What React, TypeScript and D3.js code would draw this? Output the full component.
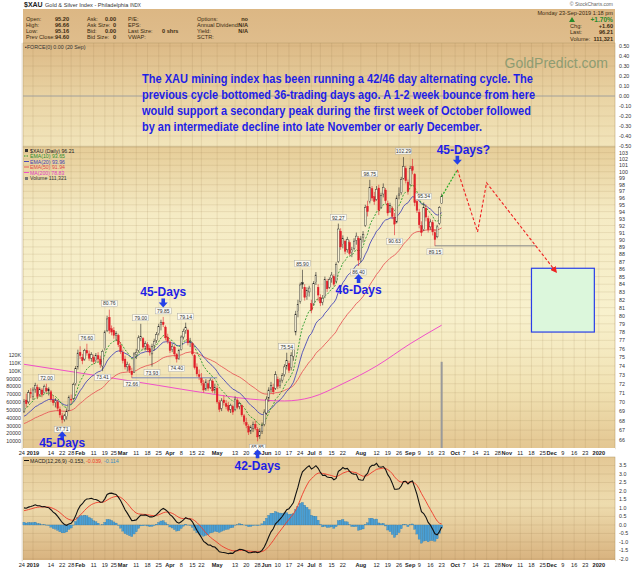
import React from "react";
import * as d3 from "d3";

// ---------- calendar ----------
const HOLIDAYS = ["2018-12-25","2019-01-01","2019-01-21","2019-02-18","2019-04-19","2019-05-27","2019-07-04","2019-09-02","2019-11-28","2019-12-25","2020-01-01"];
function buildCalendar(): string[] {
  const out: string[] = [];
  const d = new Date(Date.UTC(2018, 11, 24));
  const end = new Date(Date.UTC(2020, 0, 20));
  while (d <= end) {
    const wd = d.getUTCDay();
    const s = d.toISOString().slice(0, 10);
    if (wd !== 0 && wd !== 6 && HOLIDAYS.indexOf(s) < 0) out.push(s);
    d.setUTCDate(d.getUTCDate() + 1);
  }
  return out;
}
const CAL = buildCalendar();
const BASE = CAL.indexOf("2019-01-02");
const idxOf = (s: string) => CAL.indexOf(s) - BASE;

// ---------- price data [open, high, low, close] ----------
const dataStart = "2018-12-26";
const dec18 = [[69.0,70.3,68.8,70.0],[70.2,70.9,69.4,69.8],[70.0,71.3,69.8,71.0],[71.0,71.5,70.4,70.9]];
const jan19 = [[70.6,71.6,70.2,71.3],[71.4,72.1,71.0,71.8],[71.6,71.9,70.3,70.6],[70.8,71.6,70.6,71.4],[71.3,71.5,70.5,70.8],[71.0,71.9,70.9,71.7],[71.5,72.0,71.0,71.2],[71.2,71.6,70.7,71.4],[71.1,71.3,70.0,70.3],[70.2,70.7,69.6,69.9],[69.9,70.4,69.4,70.1],[70.0,70.2,69.0,69.3],[69.2,69.5,68.3,68.6],[68.5,68.8,67.71,68.1],[68.1,68.7,67.9,68.5],[68.4,69.3,68.1,69.0],[69.1,70.7,69.0,70.5],[70.3,70.8,69.8,70.2],[70.4,72.1,70.2,71.9],[72.0,74.0,71.8,73.7],[73.9,75.9,73.6,75.5]];
const feb19 = [[75.6,76.3,74.8,75.2],[75.0,75.4,74.2,74.6],[74.8,76.0,74.6,75.8],[75.8,76.6,75.2,75.5],[75.4,75.8,74.6,74.9],[74.9,75.6,74.5,75.3],[75.0,75.3,74.2,74.5],[74.6,75.5,74.4,75.2],[75.2,75.6,74.5,74.8],[74.8,75.2,73.8,74.2],[74.0,75.9,73.41,75.7],[76.0,78.2,75.8,78.0],[78.2,80.0,78.0,79.6],[79.8,80.76,77.8,78.2],[78.4,78.8,77.6,78.0],[78.2,78.6,77.2,77.6],[77.6,78.1,76.9,77.8],[77.6,77.8,76.2,76.5],[76.4,76.8,75.4,75.7]];
const mar19 = [[75.6,75.9,74.3,74.6],[74.8,75.2,73.6,73.9],[73.9,74.5,73.4,74.2],[74.0,74.3,73.2,73.5],[73.4,73.8,72.66,73.0],[73.3,75.6,73.2,75.4],[75.3,76.0,74.8,75.6],[75.8,77.6,75.6,77.3],[77.2,79.0,76.9,77.5],[77.2,77.4,75.9,76.2],[76.3,76.9,75.8,76.6],[76.5,76.8,75.6,75.9],[76.0,76.4,75.2,75.6],[75.4,76.6,73.93,76.3],[76.4,77.2,75.8,76.9],[77.0,78.0,76.7,77.7],[77.8,79.0,77.6,78.7],[78.9,79.5,78.2,79.2],[79.2,79.85,78.6,78.9],[78.6,78.8,77.0,77.3],[77.4,77.8,76.6,76.9]];
const apr19 = [[76.8,77.0,75.5,75.8],[75.9,76.6,75.6,76.3],[76.2,76.4,75.1,75.4],[75.3,75.5,74.4,74.8],[74.9,76.0,74.7,75.8],[75.9,77.6,75.8,77.4],[77.4,78.4,77.1,78.1],[78.2,79.14,77.8,78.6],[78.2,78.4,76.4,76.7],[76.8,77.3,76.2,76.9],[76.6,76.8,75.2,75.4],[75.2,75.4,73.6,73.8],[73.9,74.3,72.8,73.1],[73.0,73.6,72.4,72.8],[72.6,73.2,71.8,72.1],[72.0,72.4,71.0,71.3],[71.4,72.5,71.2,72.2],[72.0,72.4,71.2,71.5],[71.6,72.6,71.4,72.4],[72.3,72.5,71.0,71.2],[71.3,72.0,70.9,71.6]];
const may19 = [[71.5,71.8,69.8,70.0],[69.9,70.2,68.9,69.2],[69.3,70.4,69.0,70.1],[70.2,70.7,69.6,69.9],[69.8,70.2,69.2,69.5],[69.6,70.0,68.9,69.1],[69.2,69.8,68.8,69.6],[69.5,69.7,68.6,68.9],[69.2,70.6,69.0,70.3],[70.2,70.4,69.2,69.4],[69.5,70.0,69.2,69.8],[69.6,69.7,68.4,68.6],[68.5,68.7,67.6,67.9],[67.8,68.3,67.2,67.5],[67.4,67.6,66.5,66.8],[66.9,67.5,66.6,67.3],[67.2,67.9,66.8,67.6],[67.6,68.0,67.0,67.2],[67.1,67.3,65.85,66.3],[66.4,67.2,66.1,66.9],[66.9,67.8,66.6,67.5],[67.6,69.2,67.4,68.9]];
const jun19 = [[68.8,70.6,68.6,70.3],[70.4,71.6,70.0,71.3],[71.4,72.2,71.0,71.8],[71.6,72.0,70.8,71.1],[71.5,73.4,71.3,73.0],[72.5,72.8,71.4,71.7],[71.8,72.6,71.5,72.3],[72.4,73.2,72.1,72.9],[73.0,74.2,72.8,73.9],[74.0,75.54,73.6,74.6],[74.3,74.6,73.2,73.5],[73.8,75.6,73.5,75.2],[75.1,76.4,74.6,76.1],[78.0,80.6,77.6,80.2],[80.5,82.0,79.8,81.4],[81.8,84.2,81.5,83.9],[84.2,85.9,83.4,84.0],[83.6,84.0,81.9,82.3],[82.4,83.6,82.0,83.2],[83.0,83.8,82.4,83.5]];
const jul19 = [[81.5,82.0,80.3,80.7],[81.5,84.4,81.3,84.1],[84.2,85.6,83.9,85.2],[83.6,84.0,81.8,82.6],[82.3,82.7,81.2,81.6],[81.7,82.6,81.3,82.2],[82.4,85.0,82.2,84.6],[84.4,84.7,83.0,83.4],[83.6,84.9,83.4,84.6],[84.8,85.6,84.2,85.2],[85.0,85.3,83.7,84.0],[84.4,86.9,84.2,86.6],[87.0,92.27,86.8,91.5],[91.2,91.6,88.6,89.0],[89.3,90.6,88.8,90.2],[89.8,90.0,88.0,88.4],[88.6,90.4,88.2,90.0],[89.6,89.9,87.8,88.1],[88.2,89.0,87.6,88.6],[88.8,90.2,88.5,89.8],[89.9,91.0,89.3,90.5],[90.2,90.5,86.4,87.2]];
const aug19 = [[87.4,90.5,86.9,90.1],[90.3,91.2,89.6,90.7],[92.0,95.0,91.8,94.6],[94.8,95.6,93.3,94.0],[95.5,98.75,95.2,97.6],[97.4,97.8,95.6,96.0],[96.2,96.9,95.0,95.5],[95.8,97.8,95.6,97.3],[97.5,98.0,93.5,94.2],[94.6,96.8,94.4,96.4],[96.6,98.2,96.1,97.6],[97.2,97.5,95.2,95.6],[95.2,95.6,93.4,93.8],[94.0,95.3,93.8,94.9],[94.5,94.8,92.9,93.3],[93.2,93.8,90.63,92.2],[92.5,96.4,92.3,96.0],[96.4,97.6,95.8,96.6],[96.8,99.2,96.5,98.8],[99.0,102.29,98.8,100.8],[100.5,100.9,98.2,98.6],[98.4,98.8,96.5,97.0]];
const sep19 = [[98.0,100.9,97.8,100.5],[100.8,102.0,99.6,100.2],[99.6,99.8,94.8,95.3],[95.5,96.3,93.8,94.2],[93.9,94.4,91.6,92.1],[92.0,92.6,90.5,91.0],[91.4,95.34,91.2,94.6],[94.5,95.0,92.6,93.2],[93.0,93.4,91.0,91.4],[91.8,92.9,91.4,92.5],[92.4,92.8,90.6,91.1],[91.0,91.5,89.15,90.0],[90.4,92.1,90.2,91.8],[92.3,94.8,92.1,94.6],[95.2,96.66,95.16,96.21]];

// long-term average (date, value)
const ma200Dates = ["2018-12-26","2019-01-25","2019-02-25","2019-03-25","2019-04-23","2019-05-22","2019-06-13","2019-07-01","2019-07-22","2019-08-12","2019-09-03","2019-09-23"];
const ma200Vals = [74.2,73.4,72.6,71.8,71.0,70.3,70.1,70.5,72.0,74.0,76.6,78.83];

// indicator seeds (values at chart start)
const emaSeeds = { e10: 69.0, e20: 68.3, e50: 67.6, m12: 69.0, m26: 68.0, sig: 0.8 };

const legendVals = ["96.21", "93.65", "93.96", "91.94", "78.83", "111,321"];
const macdVals = ["-0.153", "-0.039", "-0.114"];
const lastVolume = 111321;

// price tags
const tagDates = ["2019-01-10","2019-01-22","2019-02-06","2019-02-15","2019-02-21","2019-03-07","2019-03-13","2019-03-20","2019-03-27","2019-04-04","2019-04-10","2019-05-28","2019-06-14","2019-06-25","2019-07-18","2019-07-31","2019-08-07","2019-08-22","2019-08-28","2019-09-11","2019-09-18"];
const tagSides = ["h","l","h","l","h","l","h","l","h","l","h","l","h","h","h","l","h","l","h","h","l"];

// cycle annotations
const cycleDates = ["2019-01-22","2019-03-27","2019-05-28","2019-07-31","2019-10-02"];
const cycleTexts = ["45-Days","45-Days","42-Days","46-Days","45-Days?"];
const cycleDirs = ["up","down","up","up","down"];
const cycleTextGap = [16, 11, 21, 20, 11];

// projection
const projDates = ["2019-09-23","2019-10-02","2019-10-15","2019-10-21","2019-12-04"];
const projPrices = [96.21, 100.3, 91.1, 98.3, 85.6];
const boxDates = ["2019-11-18","2019-12-30"];
const boxPrices = [78.0, 86.1];
const hLineDates = [["2019-03-07","2019-05-01"],["2019-09-18","2019-11-20"]];
const hLinePrices = [72.66, 89.15];

const tickDates = ["2018-12-24","2019-01-02","2019-01-14","2019-01-22","2019-01-28","2019-02-01","2019-02-11","2019-02-19","2019-02-25","2019-03-01","2019-03-11","2019-03-18","2019-03-25","2019-04-01","2019-04-08","2019-04-15","2019-04-22","2019-05-01","2019-05-13","2019-05-20","2019-05-28","2019-06-03","2019-06-10","2019-06-17","2019-06-24","2019-07-01","2019-07-08","2019-07-15","2019-07-22","2019-08-01","2019-08-12","2019-08-19","2019-08-26","2019-09-03","2019-09-09","2019-09-16","2019-09-23","2019-10-01","2019-10-07","2019-10-14","2019-10-21","2019-10-28","2019-11-01","2019-11-11","2019-11-18","2019-11-25","2019-12-02","2019-12-09","2019-12-16","2019-12-23","2020-01-02"];
const MONTHS = ["Jan","Feb","Mar","Apr","May","Jun","Jul","Aug","Sep","Oct","Nov","Dec"];

const annotLines = [
  "The XAU mining index has been running a 42/46 day alternating cycle. The",
  "previous cycle bottomed 36-trading days ago. A 1-2 week bounce from here",
  "would support a secondary peak during the first week of October followed",
  "by an intermediate decline into late November or early December.",
];
const annotWidths = [391, 393, 389, 340];

const FONT = "Liberation Sans, Arial, sans-serif";

function ema(vals: number[], n: number, seed: number) {
  const a = 2 / (n + 1);
  let e = seed;
  return vals.map((v) => (e = e + a * (v - e)));
}

function Arrow({ cx, tip, dir, color }: any) {
  const s = dir === "up" ? 1 : -1;
  const pts = [
    [cx, tip], [cx + 4.5, tip + s * 5], [cx + 1.8, tip + s * 5], [cx + 1.8, tip + s * 9],
    [cx - 1.8, tip + s * 9], [cx - 1.8, tip + s * 5], [cx - 4.5, tip + s * 5],
  ];
  return <polygon points={pts.map((p) => p.join(",")).join(" ")} fill={color} />;
}

export default function App() {
  const L = 23, R = 615;
  const ohlc = [...dec18, ...jan19, ...feb19, ...mar19, ...apr19, ...may19, ...jun19, ...jul19, ...aug19, ...sep19];
  const startIdx = idxOf(dataStart);
  const rows = ohlc.map((r, i) => ({ i: startIdx + i, o: r[0], h: r[1], l: r[2], c: r[3] }));
  const closes = rows.map((r) => r.c);
  const byDate = (s: string) => rows[idxOf(s) - startIdx];

  const x = d3.scaleLinear().domain([-4.45, 259.2]).range([L, R]);
  const yP = d3.scaleLog().domain([65.07, 103.9]).range([449, 147]);
  const yF = d3.scaleLinear().domain([-0.5, 0.5]).range([146, 46]);
  const yM = d3.scaleLinear().domain([-2.12, 4.0]).range([561, 457]);
  const yV = d3.scaleLinear().domain([0, 120000]).range([449, 355]);

  const e10 = ema(closes, 10, emaSeeds.e10);
  const e20 = ema(closes, 20, emaSeeds.e20);
  const e50 = ema(closes, 50, emaSeeds.e50);
  const m12 = ema(closes, 12, emaSeeds.m12);
  const m26 = ema(closes, 26, emaSeeds.m26);
  const macd = m12.map((v, k) => v - m26[k]);
  const sig = ema(macd, 9, emaSeeds.sig);
  const hist = macd.map((v, k) => v - sig[k]);

  const lineP = (vals: number[]) =>
    d3.line<number>().x((_, k) => x(rows[k].i)).y((v) => yP(v))(vals) || "";
  const lineM = (vals: number[]) =>
    d3.line<number>().x((_, k) => x(rows[k].i)).y((v) => yM(v))(vals) || "";
  const ma200Path = d3.line<number>().curve(d3.curveMonotoneX)
    .x((_, k) => x(idxOf(ma200Dates[k]))).y((v) => yP(v))(ma200Vals) || "";

  const ticks = tickDates.map((s) => {
    const [yy, mm, dd] = s.split("-").map(Number);
    const i = idxOf(s);
    let label = String(dd);
    let bold = false;
    const prevMonth = CAL[BASE + i - 1] ? Number(CAL[BASE + i - 1].split("-")[1]) : mm;
    if (prevMonth !== mm) {
      bold = true;
      label = mm === 1 ? String(yy) : MONTHS[mm - 1];
    }
    return { i, label, bold };
  });

  const gridCol = "rgba(140,110,60,0.22)";
  const priceTicks = d3.range(66, 104);
  const forceTicks = d3.range(-5, 6).map((v) => v / 10);
  const macdTicks = d3.range(-4, 8).map((v) => v / 2);
  const volTicks = d3.range(1, 13).map((v) => v * 10000);

  const blue = "#1f1fe6";
  const arrowBlue = "#2440e8";

  const vGrid = (top: number, bottom: number) =>
    ticks.map((t, k) => <line key={k} x1={x(t.i)} x2={x(t.i)} y1={top} y2={bottom} stroke={gridCol} strokeWidth={0.6} />);

  const dateRow = (y: number) => (
    <g>
      <rect x={L} y={y - 5} width={R - L} height={8} fill="#ffffff" />
      {ticks.map((t, k) => (
        <text key={k} x={x(t.i)} y={y + 2} fontSize={5.6} fontWeight={t.bold ? "bold" : "normal"} textAnchor="middle" fill="#222" fontFamily={FONT}>{t.label}</text>
      ))}
    </g>
  );

  const proj = d3.line<number>().x((_, k) => x(idxOf(projDates[k]))).y((v) => yP(v));

  return (
    <svg width={640} height={570} style={{ position: "absolute", left: 0, top: 0, display: "block", background: "#fff" }} fontFamily={FONT}>
      <defs>
        <linearGradient id="gQuote" x1="0" y1="0" x2="0" y2="1">
          <stop offset="0" stopColor="#dcb784" />
          <stop offset="1" stopColor="#dfbd8c" />
        </linearGradient>
        <linearGradient id="gForce" x1="0" y1="0" x2="0" y2="1">
          <stop offset="0" stopColor="#dcb985" />
          <stop offset="0.5" stopColor="#e9d3a3" />
          <stop offset="1" stopColor="#f2e5bb" />
        </linearGradient>
        <linearGradient id="gPrice" x1="0" y1="0" x2="0" y2="1">
          <stop offset="0" stopColor="#e6cd98" />
          <stop offset="0.22" stopColor="#f5ebc4" />
          <stop offset="0.55" stopColor="#f8f1cd" />
          <stop offset="0.8" stopColor="#f1e2b3" />
          <stop offset="1" stopColor="#e3c691" />
        </linearGradient>
        <linearGradient id="gMacd" x1="0" y1="0" x2="0" y2="1">
          <stop offset="0" stopColor="#e4c896" />
          <stop offset="0.45" stopColor="#eedcae" />
          <stop offset="1" stopColor="#d8b27e" />
        </linearGradient>
        <marker id="arrRed" viewBox="0 0 10 10" refX="8" refY="5" markerWidth="6" markerHeight="6" orient="auto">
          <path d="M0,0 L10,5 L0,10 z" fill="#ee2222" />
        </marker>
      </defs>

      {/* title */}
      <text x={24} y={7} fontSize={7} fontWeight="bold" fill="#222">$XAU</text>
      <text x={45} y={7} fontSize={5.6} fill="#333">Gold &amp; Silver Index - Philadelphia <tspan fontSize={4.6}>INDX</tspan></text>
      <text x={613} y={6} fontSize={5} textAnchor="end" fill="#666">© StockCharts.com</text>

      {/* quote box */}
      <rect x={L} y={9} width={R - L} height={34} fill="url(#gQuote)" />
      <g fontSize={5.6} fill="#3a2a10">
        {["Open:", "High:", "Low:", "Prev Close:"].map((s, k) => <text key={"a" + k} x={26} y={21 + k * 6}>{s}</text>)}
        {["95.20", "96.66", "95.16", "94.60"].map((s, k) => <text key={"b" + k} x={55} y={21 + k * 6} fontWeight="bold">{s}</text>)}
        {["Ask:", "Ask Size:", "Bid:", "Bid Size:"].map((s, k) => <text key={"c" + k} x={87} y={21 + k * 6}>{s}</text>)}
        {["0.00", "0", "0.00", "0"].map((s, k) => <text key={"d" + k} x={116} y={21 + k * 6} fontWeight="bold" textAnchor="end">{s}</text>)}
        {["P/E:", "EPS:", "Last Size:", "VWAP:"].map((s, k) => <text key={"e" + k} x={128} y={21 + k * 6}>{s}</text>)}
        <text x={162} y={33} fontWeight="bold">0 shrs</text>
        {["Options:", "Annual Dividend:", "Yield:", "SCTR:"].map((s, k) => <text key={"f" + k} x={197} y={21 + k * 6}>{s}</text>)}
        {["no", "N/A", "N/A"].map((s, k) => <text key={"g" + k} x={248} y={21 + k * 6} fontWeight="bold" textAnchor="end">{s}</text>)}
        <text x={613} y={15} textAnchor="end">Monday  23-Sep-2019  1:18 pm</text>
        <path d="M569,22 L572,17 L575,22 Z" fill="#2a8a2a" />
        <text x={613} y={22} textAnchor="end" fontWeight="bold" fill="#2a8a2a" fontSize={6.6}>+1.70%</text>
        <text x={570} y={28}>Chg:</text>
        <text x={613} y={28} textAnchor="end" fontWeight="bold">+1.60</text>
        <text x={570} y={34}>Last:</text>
        <text x={613} y={34} textAnchor="end" fontWeight="bold">96.21</text>
        <text x={570} y={40.5}>Volume:</text>
        <text x={613} y={40.5} textAnchor="end" fontWeight="bold">111,321</text>
      </g>

      {/* force panel */}
      <rect x={L} y={43} width={R - L} height={104} fill="url(#gForce)" stroke="#b49a6a" strokeWidth={0.5} />
      {vGrid(43, 147)}
      {forceTicks.map((v, k) => (
        <g key={k}>
          <line x1={L} x2={R} y1={yF(v)} y2={yF(v)} stroke={v === 0 ? "#9a9a9a" : gridCol} strokeWidth={v === 0 ? 0.9 : 0.6} />
          <text x={619} y={yF(v) + 2} fontSize={5.3} fill="#333">{v.toFixed(2)}</text>
        </g>
      ))}
      <text x={25} y={48.5} fontSize={5.3} fill="#333">▪FORCE(0) 0.00 (20 Sep)</text>
      <text x={608} y={68} fontSize={14} textAnchor="end" fill="#8e9c72">GoldPredict.com</text>
      {annotLines.map((s, k) => (
        <text key={k} x={142} y={83 + k * 16} fontSize={13} fontWeight="bold" fill={blue}
          textLength={annotWidths[k]} lengthAdjust="spacingAndGlyphs">{s}</text>
      ))}

      {/* price panel */}
      <rect x={L} y={147} width={R - L} height={302} fill="url(#gPrice)" stroke="#b49a6a" strokeWidth={0.5} />
      {vGrid(147, 449)}
      {priceTicks.map((v) => (
        <g key={v}>
          <line x1={L} x2={R} y1={yP(v)} y2={yP(v)} stroke={gridCol} strokeWidth={0.6} />
          <text x={619} y={yP(v) + 2} fontSize={5.3} fill="#333">{v}</text>
        </g>
      ))}
      {volTicks.map((v) => (
        <text key={v} x={21} y={yV(v) + 2} fontSize={5.3} textAnchor="end" fill="#333">{v >= 100000 ? v / 1000 + "K" : v}</text>
      ))}
      {/* volume bar */}
      <rect x={x(182) - 1} y={yV(lastVolume)} width={2} height={449 - yV(lastVolume)} fill="#9a9a9a" />

      {/* moving averages */}
      <path d={ma200Path} fill="none" stroke="#f050c8" strokeWidth={1} />
      <path d={lineP(e50)} fill="none" stroke="#e85a5a" strokeWidth={0.9} />
      <path d={lineP(e20)} fill="none" stroke="#4a4ab8" strokeWidth={0.9} />
      <path d={lineP(e10)} fill="none" stroke="#2a9a2a" strokeWidth={0.9} strokeDasharray="2,1.5" />

      {/* horizontal lines */}
      {hLineDates.map((d, k) => (
        <line key={k} x1={x(idxOf(d[0]))} x2={x(idxOf(d[1]))} y1={yP(hLinePrices[k])} y2={yP(hLinePrices[k])} stroke={k === 0 ? "#7a86b8" : "#8a8a8a"} strokeWidth={1} />
      ))}

      {/* candles */}
      {rows.map((r, k) => {
        const prev = k > 0 ? rows[k - 1].c : r.o;
        const col = r.c >= prev ? "#222222" : "#e0202a";
        const filled = r.c < r.o;
        const cx = x(r.i);
        const top = yP(Math.max(r.o, r.c));
        const bot = yP(Math.min(r.o, r.c));
        return (
          <g key={k}>
            <line x1={cx} x2={cx} y1={yP(r.h)} y2={yP(r.l)} stroke={col} strokeWidth={0.6} />
            <rect x={cx - 0.85} y={top} width={1.7} height={Math.max(0.6, bot - top)} fill={filled ? col : "#f8f2d6"} stroke={col} strokeWidth={0.4} />
          </g>
        );
      })}

      {/* price tags */}
      {tagDates.map((s, k) => {
        const r = byDate(s);
        const v = tagSides[k] === "h" ? r.h : r.l;
        const cy = tagSides[k] === "h" ? yP(v) - 6 : yP(v) + 6;
        const cx = x(r.i);
        return (
          <g key={k}>
            <rect x={cx - 8} y={cy - 3} width={16} height={6} fill="#fbfaf3" stroke="#a0a0a0" strokeWidth={0.4} />
            <text x={cx} y={cy + 1.9} fontSize={5} textAnchor="middle" fill="#333">{v.toFixed(2)}</text>
          </g>
        );
      })}

      {/* legend */}
      <g fontSize={5.2}>
        <rect x={25} y={149} width={3} height={3} fill="#333" />
        <text x={30} y={152.5} fill="#222">$XAU (Daily) {legendVals[0]}</text>
        <line x1={24} x2={29} y1={156} y2={156} stroke="#2a9a2a" strokeDasharray="1.5,1" />
        <text x={30} y={158} fill="#2a8a2a">EMA(10) {legendVals[1]}</text>
        <line x1={24} x2={29} y1={161.5} y2={161.5} stroke="#4a4ab8" />
        <text x={30} y={163.5} fill="#4040b0">EMA(20) {legendVals[2]}</text>
        <line x1={24} x2={29} y1={167} y2={167} stroke="#e85a5a" />
        <text x={30} y={169} fill="#e04848">EMA(50) {legendVals[3]}</text>
        <line x1={24} x2={29} y1={172.5} y2={172.5} stroke="#f050c8" />
        <text x={30} y={174.5} fill="#e040c0">MA(200) {legendVals[4]}</text>
        <rect x={25} y={177} width={3} height={3} fill="#777" />
        <text x={30} y={180} fill="#333">Volume {legendVals[5]}</text>
      </g>

      {/* projection */}
      <path d={proj(projPrices.slice(0, 2)) || ""} fill="none" stroke="#22aa22" strokeWidth={1.2} strokeDasharray="2,1.5" />
      <rect x={x(idxOf(boxDates[0]))} y={yP(boxPrices[1])} width={x(idxOf(boxDates[1])) - x(idxOf(boxDates[0]))} height={yP(boxPrices[0]) - yP(boxPrices[1])} fill="#dcf7dc" stroke="#2a3ee8" strokeWidth={1.2} />
      <path
        d={d3.line<number>().x((_, k) => x(idxOf(projDates[k + 1]))).y((v) => yP(v))(projPrices.slice(1)) || ""}
        fill="none" stroke="#ee2222" strokeWidth={1.1} strokeDasharray="3,2" markerEnd="url(#arrRed)" />

      {/* date rows */}
      {dateRow(453)}

      {/* MACD panel */}
      <rect x={L} y={457} width={R - L} height={104} fill="url(#gMacd)" stroke="#b49a6a" strokeWidth={0.5} />
      {vGrid(457, 561)}
      {macdTicks.map((v, k) => (
        <g key={k}>
          <line x1={L} x2={R} y1={yM(v)} y2={yM(v)} stroke={gridCol} strokeWidth={0.6} />
          <text x={619} y={yM(v) + 2} fontSize={5.3} fill="#333">{v.toFixed(1)}</text>
        </g>
      ))}
      {hist.map((h, k) => (
        <rect key={k} x={x(rows[k].i) - 1.1} y={Math.min(yM(0), yM(h))} width={2.2} height={Math.abs(yM(h) - yM(0))} fill="#4a9fd4" stroke="#2b6f9e" strokeWidth={0.25} />
      ))}
      <path d={lineM(sig)} fill="none" stroke="#ee3a2a" strokeWidth={0.9} />
      <path d={lineM(macd)} fill="none" stroke="#111" strokeWidth={1.1} />
      <g fontSize={5.3}>
        <line x1={24} x2={29} y1={460.5} y2={460.5} stroke="#111" strokeWidth={1} />
        <text x={30} y={462.5} fill="#222">MACD(12,26,9) {macdVals[0]},</text>
        <text x={86} y={462.5} fill="#ee3a2a">{macdVals[1]},</text>
        <text x={104} y={462.5} fill="#3a8ac0">{macdVals[2]}</text>
      </g>
      {dateRow(565)}

      {/* cycle annotations */}
      {cycleDates.map((s, k) => {
        const i = idxOf(s);
        const cx = x(i);
        const isProj = projDates.indexOf(s) >= 0;
        const pv = isProj ? projPrices[projDates.indexOf(s)] : (cycleDirs[k] === "up" ? byDate(s).l : byDate(s).h);
        if (cycleDirs[k] === "up") {
          const tip = yP(pv) + 8;
          return (
            <g key={k}>
              <Arrow cx={cx} tip={tip} dir="up" color={arrowBlue} />
              <text x={cx} y={tip + cycleTextGap[k]} fontSize={12} fontWeight="bold" fill={blue} textAnchor="middle">{cycleTexts[k]}</text>
            </g>
          );
        }
        const tip = yP(pv) - (isProj ? 5 : 9.5);
        return (
          <g key={k}>
            <Arrow cx={cx} tip={tip} dir="down" color={arrowBlue} />
            <text x={cx + (isProj ? 6 : 0)} y={tip - cycleTextGap[k]} fontSize={12} fontWeight="bold" fill={blue} textAnchor="middle">{cycleTexts[k]}</text>
          </g>
        );
      })}
    </svg>
  );
}
